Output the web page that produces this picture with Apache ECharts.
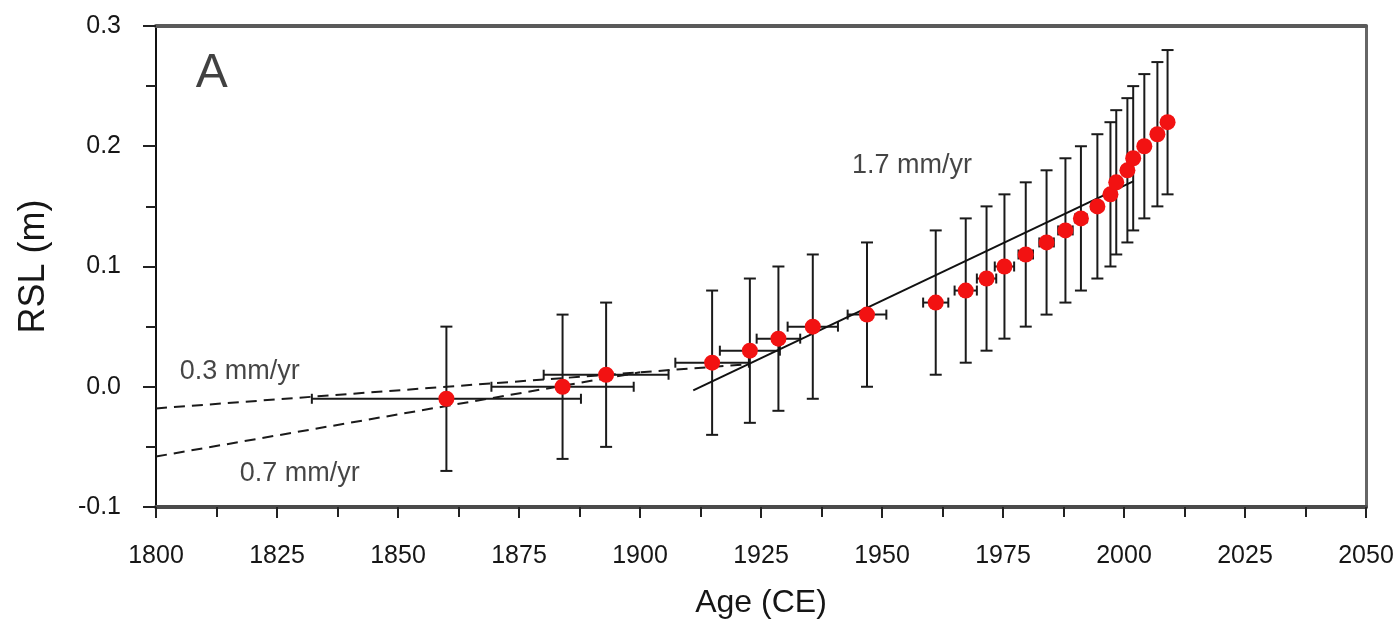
<!DOCTYPE html>
<html>
<head>
<meta charset="utf-8">
<script src="https://cdn.jsdelivr.net/npm/echarts@6/dist/echarts.min.js"></script>
<style>
html,body{margin:0;padding:0;background:#fff;}
#chart{width:1400px;height:624px;}
</style>
</head>
<body>
<div id="chart"></div>
<script>
// ---- data ----
const years = [1860.0, 1884.0, 1893.0, 1914.9, 1922.7, 1928.6, 1935.7, 1946.9, 1961.1, 1967.3, 1971.6, 1975.3, 1979.7, 1984.0, 1987.9, 1991.1, 1994.5, 1997.2, 1998.4, 2000.7, 2001.9, 2004.2, 2006.9, 2009.0];
const rsl   = [-0.01, 0.00, 0.01, 0.02, 0.03, 0.04, 0.05, 0.06, 0.07, 0.08, 0.09, 0.10, 0.11, 0.12, 0.13, 0.14, 0.15, 0.16, 0.17, 0.18, 0.19, 0.20, 0.21, 0.22];
const yErr  = [0.06, 0.06, 0.06, 0.06, 0.06, 0.06, 0.06, 0.06, 0.06, 0.06, 0.06, 0.06, 0.06, 0.06, 0.06, 0.06, 0.06, 0.06, 0.06, 0.06, 0.06, 0.06, 0.06, 0.06];
const xErr  = [27.8, 14.7, 12.9, 7.6, 6.2, 4.5, 5.2, 4.0, 2.6, 2.3, 2.0, 2.0, 1.5, 1.5, 1.5, 1.2, 1.0, 1.0, 1.0, 1.0, 1.0, 1.0, 1.0, 1.0];

const trend03 = [[1800, -0.018], [1922, 0.0186]];   // 0.3 mm/yr (dashed)
const trend07 = [[1800, -0.058], [1900, 0.012]];    // 0.7 mm/yr (dashed)
const trend17 = [[1911, -0.003], [2002, 0.171]];    // 1.7 mm/yr (solid)

const annotations = [
  {name: '0.3 mm/yr', pos: [1817.3, 0.013]},
  {name: '0.7 mm/yr', pos: [1829.7, -0.072]},
  {name: '1.7 mm/yr', pos: [1956.2, 0.184]},
];
const panelLabel = {name: 'A', pos: [1811.5, 0.26]};

const xTicks = {min: 1800, max: 2050, interval: 25};
const yTicks = {min: -0.1, max: 0.3, interval: 0.1};

// ---- chart ----
const FONT = 'Liberation Sans, Arial, sans-serif';
const TXT = '#161616';
const chart = echarts.init(document.getElementById('chart'), null, {renderer: 'canvas'});

const errData = years.map((x, i) => [x, rsl[i], xErr[i], yErr[i]]);
const ptData = years.map((x, i) => [x, rsl[i]]);

function renderErr(params, api) {
  const x = api.value(0), y = api.value(1), xe = api.value(2), ye = api.value(3);
  const top = api.coord([x, y + ye]);
  const bot = api.coord([x, y - ye]);
  const lft = api.coord([x - xe, y]);
  const rgt = api.coord([x + xe, y]);
  const cw = 6, ch = 5;
  const st = {stroke: '#1a1a1a', lineWidth: 2};
  const L = (x1, y1, x2, y2) => ({type: 'line', shape: {x1, y1, x2, y2}, style: st});
  return {
    type: 'group',
    children: [
      L(top[0], top[1], bot[0], bot[1]),
      L(top[0] - cw, top[1], top[0] + cw, top[1]),
      L(bot[0] - cw, bot[1], bot[0] + cw, bot[1]),
      L(lft[0], lft[1], rgt[0], rgt[1]),
      L(lft[0], lft[1] - ch, lft[0], lft[1] + ch),
      L(rgt[0], rgt[1] - ch, rgt[0], rgt[1] + ch),
    ]
  };
}

chart.setOption({
  animation: false,
  backgroundColor: '#fff',
  grid: {left: 156, right: 34, top: 26, bottom: 117, containLabel: false},
  xAxis: [
    {
      type: 'value', min: xTicks.min, max: xTicks.max, interval: xTicks.interval,
      position: 'bottom',
      name: 'Age (CE)', nameLocation: 'middle', nameGap: 80,
      nameTextStyle: {color: TXT, fontFamily: FONT, fontSize: 32},
      axisLine: {show: true, onZero: false, lineStyle: {color: '#4a4a4a', width: 4}},
      axisTick: {show: true, inside: false, length: 11, lineStyle: {color: '#222', width: 2}},
      minorTick: {show: true, splitNumber: 2, length: 10, lineStyle: {color: '#222', width: 2}},
      axisLabel: {margin: 37, color: TXT, fontFamily: FONT, fontSize: 25,
        formatter: v => String(v)},
      splitLine: {show: false}
    },
    {
      type: 'value', min: xTicks.min, max: xTicks.max, position: 'top',
      axisLine: {show: true, onZero: false, lineStyle: {color: '#5a5a5a', width: 4}},
      axisTick: {show: false}, axisLabel: {show: false}, splitLine: {show: false}
    }
  ],
  yAxis: [
    {
      type: 'value', min: yTicks.min, max: yTicks.max, interval: yTicks.interval,
      position: 'left',
      name: 'RSL (m)', nameLocation: 'middle', nameGap: 104, nameRotate: 90,
      nameTextStyle: {color: TXT, fontFamily: FONT, fontSize: 36},
      axisLine: {show: true, onZero: false, lineStyle: {color: '#111', width: 2}},
      axisTick: {show: true, inside: false, length: 13, lineStyle: {color: '#222', width: 2}},
      minorTick: {show: true, splitNumber: 2, length: 10, lineStyle: {color: '#222', width: 2}},
      axisLabel: {margin: 35, color: TXT, fontFamily: FONT, fontSize: 25,
        formatter: v => v.toFixed(1)},
      splitLine: {show: false}
    },
    {
      type: 'value', min: yTicks.min, max: yTicks.max, position: 'right',
      axisLine: {show: true, onZero: false, lineStyle: {color: '#666', width: 3}},
      axisTick: {show: false}, axisLabel: {show: false}, splitLine: {show: false}
    }
  ],
  series: [
    {type: 'line', data: trend03, symbol: 'none', silent: true,
      lineStyle: {color: '#1a1a1a', width: 2, type: [11, 7]}},
    {type: 'line', data: trend07, symbol: 'none', silent: true,
      lineStyle: {color: '#1a1a1a', width: 2, type: [11, 7]}},
    {type: 'custom', data: errData, renderItem: renderErr,
      encode: {x: 0, y: 1}, z: 3},
    {type: 'line', data: trend17, symbol: 'none', silent: true, z: 4,
      lineStyle: {color: '#111', width: 2}},
    {type: 'scatter', data: ptData, symbol: 'circle', symbolSize: 16, z: 5,
      itemStyle: {color: '#f21212', opacity: 1}},
    {type: 'scatter', symbolSize: 0, silent: true, z: 6,
      data: annotations.map(a => ({name: a.name, value: a.pos})),
      label: {show: true, position: 'inside', formatter: p => p.name,
        color: TXT, fontFamily: FONT, fontSize: 27}},
    {type: 'scatter', symbolSize: 0, silent: true, z: 6,
      data: [{name: panelLabel.name, value: panelLabel.pos}],
      label: {show: true, position: 'inside', formatter: p => p.name,
        color: '#111', fontFamily: FONT, fontSize: 48}}
  ]
});
</script>
</body>
</html>
